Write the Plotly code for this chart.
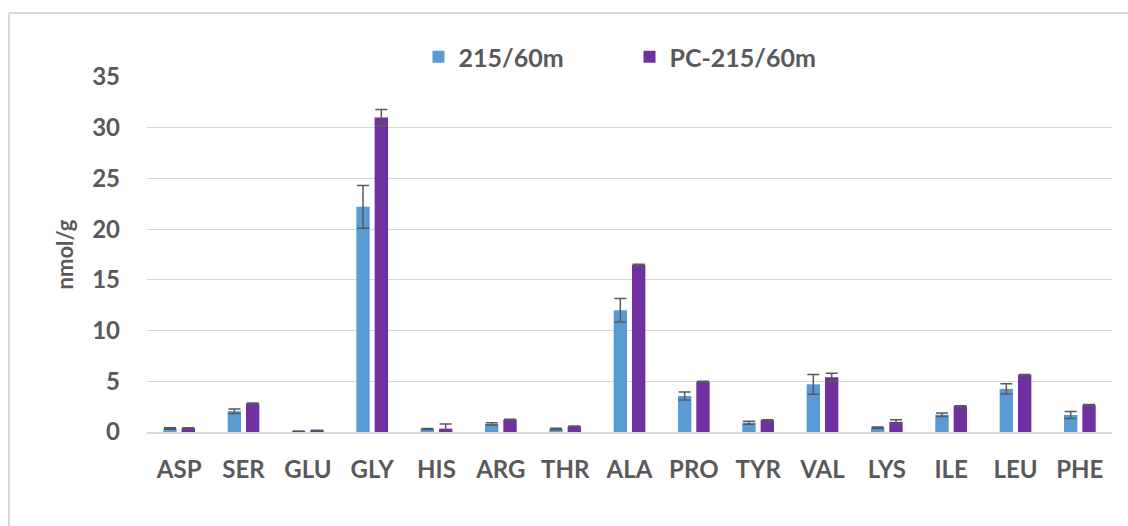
import plotly.graph_objects as go

# Free amino acid content (nmol/g), two samples with standard-deviation error bars
amino_acids = ["ASP", "SER", "GLU", "GLY", "HIS", "ARG", "THR", "ALA",
               "PRO", "TYR", "VAL", "LYS", "ILE", "LEU", "PHE"]

s215_values = [0.35, 2.05, 0.08, 22.2, 0.3, 0.8, 0.3, 12.0,
               3.55, 0.92, 4.7, 0.42, 1.7, 4.25, 1.68]
s215_errors = [0.08, 0.22, 0.03, 2.1, 0.05, 0.1, 0.08, 1.15,
               0.4, 0.15, 0.97, 0.07, 0.18, 0.5, 0.35]

pc215_values = [0.38, 2.8, 0.15, 31.0, 0.33, 1.22, 0.55, 16.5,
                4.95, 1.15, 5.4, 1.0, 2.55, 5.62, 2.65]
pc215_errors = [0.05, 0.05, 0.03, 0.8, 0.45, 0.03, 0.03, 0.05,
                0.05, 0.05, 0.4, 0.2, 0.05, 0.05, 0.05]

y_ticks = [0, 5, 10, 15, 20, 25, 30, 35]

TEXT = "#595959"
GRID = "#d9d9d9"
FONT = "Lato"

W, H = 1128, 526
ML, MR, MT, MB = 147, 16, 77, 94

err_style = dict(type="data", thickness=1.5, width=6, color="#595959")

fig = go.Figure()
fig.add_trace(go.Bar(
    name="215/60m", x=amino_acids, y=s215_values,
    marker=dict(color="#5B9BD5", line=dict(width=0)),
    error_y=dict(array=s215_errors, **err_style),
))
fig.add_trace(go.Bar(
    name="PC-215/60m", x=amino_acids, y=pc215_values,
    marker=dict(color="#7030A0", line=dict(width=0)),
    error_y=dict(array=pc215_errors, **err_style),
))

# outer chart frame (left and top edges)
pw, ph = W - ML - MR, H - MT - MB
fx = (9 - ML) / pw
fy = 1 + (MT - 13) / ph
fig.add_shape(type="line", xref="paper", yref="paper",
              x0=fx, x1=1.2, y0=fy, y1=fy, line=dict(color=GRID, width=2))
fig.add_shape(type="line", xref="paper", yref="paper",
              x0=fx, x1=fx, y0=fy, y1=-0.5, line=dict(color=GRID, width=2))

fig.update_layout(
    width=W, height=H,
    margin=dict(l=ML, r=MR, t=MT, b=MB),
    paper_bgcolor="white", plot_bgcolor="white",
    barmode="group", bargap=0.43, bargroupgap=0.27,
    font=dict(family=FONT, color=TEXT, size=24, weight="bold"),
    legend=dict(
        orientation="h", x=0.5, xanchor="center", y=1 + 20 / ph, yanchor="middle",
        font=dict(size=25, color=TEXT, family=FONT, weight="bold"),
        entrywidth=166, itemwidth=30, bgcolor="rgba(0,0,0,0)",
    ),
    showlegend=True,
)

fig.update_yaxes(
    range=[0, 35], tickvals=y_ticks,
    showgrid=True, gridcolor=GRID, gridwidth=1,
    zeroline=False, showline=False, ticks="",
    ticklabelstandoff=26,
    tickfont=dict(size=24, color=TEXT, family=FONT, weight="bold"),
    title=dict(text="nmol/g", standoff=12,
               font=dict(size=22, color=TEXT, family=FONT, weight="bold")),
)
fig.update_xaxes(
    showgrid=False, showline=True, linecolor=GRID, linewidth=1.5,
    ticks="", ticklabelstandoff=15,
    tickfont=dict(size=24, color=TEXT, family=FONT, weight="bold"),
)

fig.write_html("out.html")
